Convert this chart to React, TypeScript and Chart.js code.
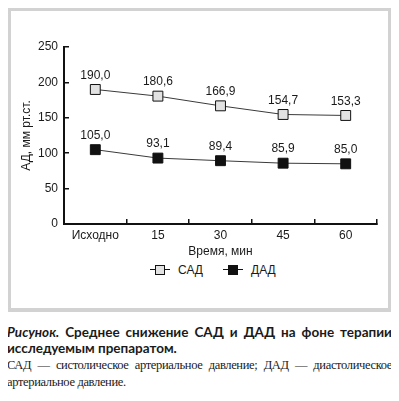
import React, { useEffect, useRef } from "react";
import { Chart, registerables } from "chart.js";

Chart.register(...registerables);

const categories = ["Исходно", "15", "30", "45", "60"];
const sadValues = [190.0, 180.6, 166.9, 154.7, 153.3];
const dadValues = [105.0, 93.1, 89.4, 85.9, 85.0];
const yTicks = [0, 50, 100, 150, 200, 250];
const seriesNames = ["САД", "ДАД"];
const yTitle = "АД, мм рт.ст.";
const xTitle = "Время, мин";

const FONT = "'Liberation Sans', Arial, sans-serif";

const valueLabels = {
  id: "valueLabels",
  afterDatasetsDraw(chart: any) {
    const ctx = chart.ctx;
    ctx.save();
    ctx.font = `12px ${FONT}`;
    ctx.fillStyle = "#1a1a1a";
    ctx.textAlign = "center";
    ctx.textBaseline = "middle";
    chart.data.datasets.forEach((ds: any, i: number) => {
      const meta = chart.getDatasetMeta(i);
      meta.data.forEach((pt: any, j: number) => {
        const v = ds.data[j] as number;
        ctx.fillText(v.toFixed(1).replace(".", ","), pt.x, pt.y - 14);
      });
    });
    ctx.restore();
  },
};

function LegendItem({ fill, label, left }: { fill: string; label: string; left: number }) {
  return (
    <div style={{ position: "absolute", left, top: 0, height: 18, display: "flex", alignItems: "center" }}>
      <div style={{ position: "relative", width: 20, height: 18 }}>
        <div style={{ position: "absolute", left: 0, top: 8, width: 20, height: 1, background: "#111" }} />
        <div
          style={{
            position: "absolute",
            left: 5,
            top: 4,
            width: 8,
            height: 8,
            background: fill,
            border: "1px solid #111",
          }}
        />
      </div>
      <span style={{ marginLeft: 8, font: `12px ${FONT}`, color: "#1a1a1a" }}>{label}</span>
    </div>
  );
}

export default function App() {
  const ref = useRef<HTMLCanvasElement>(null);

  useEffect(() => {
    if (!ref.current) return;
    const chart = new Chart(ref.current, {
      type: "line",
      data: {
        labels: categories,
        datasets: [
          {
            label: seriesNames[0],
            data: sadValues,
            borderColor: "#3a3a3a",
            borderWidth: 1,
            pointStyle: "rect",
            pointRadius: 7,
            pointBackgroundColor: "#e2e2e2",
            pointBorderColor: "#111",
            pointBorderWidth: 1,
            tension: 0,
          },
          {
            label: seriesNames[1],
            data: dadValues,
            borderColor: "#3a3a3a",
            borderWidth: 1,
            pointStyle: "rect",
            pointRadius: 7,
            pointBackgroundColor: "#111",
            pointBorderColor: "#111",
            pointBorderWidth: 1,
            tension: 0,
          },
        ],
      },
      options: {
        animation: false,
        responsive: false,
        maintainAspectRatio: false,
        layout: { padding: { left: 8, right: 11, top: 36, bottom: 0 } },
        plugins: {
          legend: { display: false },
          tooltip: { enabled: false },
        },
        scales: {
          x: {
            type: "category",
            offset: true,
            grid: {
              offset: true,
              drawOnChartArea: false,
              drawTicks: true,
              tickLength: -5,
              color: "#111",
              lineWidth: 1.5,
            },
            border: { display: true, color: "#111", width: 2 },
            ticks: { color: "#1a1a1a", font: { family: FONT, size: 12 }, padding: 9 },
            title: {
              display: true,
              text: xTitle,
              color: "#1a1a1a",
              font: { family: FONT, size: 12 },
              padding: { top: 0, bottom: 2 },
            },
            afterFit(scale: any) {
              scale.height = 37;
            },
          },
          y: {
            min: 0,
            max: 250,
            afterBuildTicks(scale: any) {
              scale.ticks = yTicks.map((v) => ({ value: v }));
            },
            grid: {
              drawOnChartArea: false,
              drawTicks: true,
              tickLength: -5,
              color: "#111",
              lineWidth: 1.5,
            },
            border: { display: true, color: "#111", width: 2 },
            ticks: { color: "#1a1a1a", font: { family: FONT, size: 12 }, padding: 11 },
            title: {
              display: true,
              text: yTitle,
              color: "#1a1a1a",
              font: { family: FONT, size: 12 },
              padding: { top: 0, bottom: 0 },
            },
            afterFit(scale: any) {
              scale.width = 45;
            },
          },
        },
      },
      plugins: [valueLabels],
    });
    return () => chart.destroy();
  }, []);

  return (
    <div style={{ margin: "-1px 0 0 -1px", width: 385 }}>
      <div
        style={{
          position: "relative",
          width: 385,
          height: 305,
          boxSizing: "border-box",
          border: "4px solid #d2d2d2",
          background: "#fff",
        }}
      >
        <canvas ref={ref} width={377} height={250} style={{ display: "block", width: 377, height: 250 }} />
        <div style={{ position: "absolute", left: 0, top: 250, width: 377, height: 18 }}>
          <LegendItem fill="#e2e2e2" label={seriesNames[0]} left={139} />
          <LegendItem fill="#111" label={seriesNames[1]} left={212} />
        </div>
      </div>
      <div style={{ marginTop: 12, width: 385 }}>
        <p
          style={{
            margin: 0,
            font: `bold 13.5px Lato, 'Open Sans', sans-serif`,
            lineHeight: "16px",
            textAlign: "justify",
            color: "#1a1a1a",
          }}
        >
          <i>Рисунок.</i> Среднее снижение САД и ДАД на фоне терапии исследуемым препаратом.
        </p>
        <p
          style={{
            margin: "1px 0 0 0",
            font: `12.5px 'Liberation Serif', 'Times New Roman', serif`,
            letterSpacing: "-0.35px",
            lineHeight: "17px",
            textAlign: "justify",
            color: "#1a1a1a",
          }}
        >
          САД — систолическое артериальное давление; ДАД — диастолическое артериальное давление.
        </p>
      </div>
    </div>
  );
}
